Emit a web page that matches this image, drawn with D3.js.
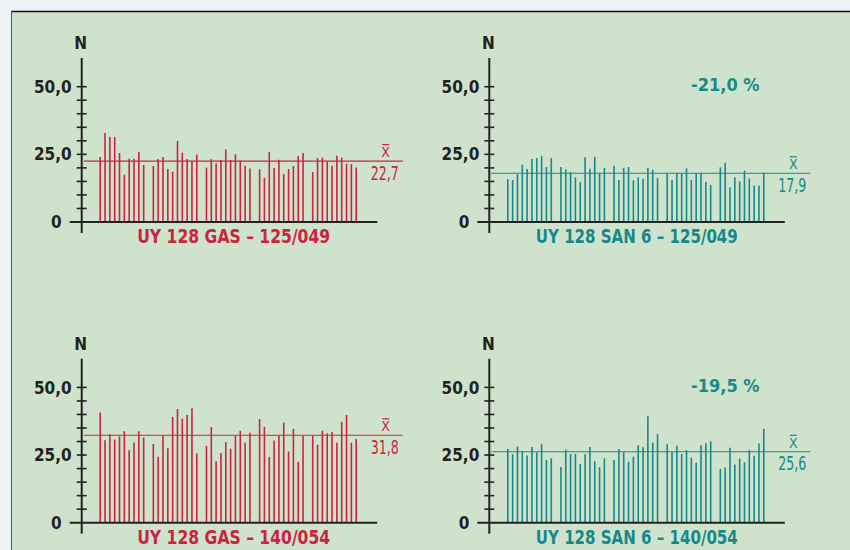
<!DOCTYPE html>
<html>
<head>
<meta charset="utf-8">
<script src="https://cdn.jsdelivr.net/npm/d3@7"></script>
<style>
  body { margin: 0; background: #edf2f9; }
  svg { display: block; }
  text { font-family: "Liberation Sans Narrow", "DejaVu Sans Condensed", sans-serif; font-stretch: condensed; }
</style>
</head>
<body>
<script>
var gas125 = [24.0, 32.9, 31.4, 31.4, 25.5, 17.5, 23.4, 23.4, 25.9, 21.1,
              20.7, 23.3, 24.0, 19.6, 18.6, 29.9, 25.6, 23.3, 22.5, 24.9,
              20.1, 23.2, 21.7, 22.9, 26.8, 22.9, 25.0, 22.7, 20.8, 19.8,
              19.5, 16.3, 25.9, 20.0, 23.0, 17.7, 19.6, 20.7, 24.4, 25.5,
              18.5, 23.6, 23.8, 22.4, 20.8, 24.5, 23.8, 21.6, 21.4, 20.1];

var san125 = [15.8, 15.5, 17.7, 21.2, 19.6, 23.3, 23.6, 24.5, 20.3, 23.6,
              20.3, 19.5, 18.4, 16.5, 14.8, 23.9, 19.7, 24.1, 18.0, 20.0,
              20.8, 15.5, 20.0, 20.3, 15.4, 16.5, 16.0, 20.0, 19.3, 16.3,
              18.0, 15.5, 18.0, 18.0, 19.8, 15.5, 18.0, 18.0, 14.8, 13.7,
              20.2, 21.9, 12.8, 16.5, 15.0, 19.0, 16.1, 13.5, 13.5, 18.2];

var gas140 = [40.7, 30.5, 32.7, 30.7, 31.9, 33.8, 26.8, 29.6, 33.8, 31.5,
              29.1, 24.4, 32.2, 27.5, 39.1, 42.0, 38.5, 39.8, 42.3, 25.6,
              28.4, 35.3, 22.7, 25.8, 29.8, 27.3, 32.1, 34.0, 29.5, 33.2,
              38.3, 35.4, 24.3, 30.4, 32.2, 37.0, 26.3, 34.7, 22.5, 32.0,
              32.2, 28.8, 34.0, 33.0, 33.5, 29.6, 37.3, 39.8, 29.5, 30.9];

var san140 = [27.3, 25.3, 28.1, 26.2, 24.8, 28.0, 26.0, 29.0, 23.2, 23.8,
              20.6, 27.0, 25.4, 25.4, 21.7, 25.3, 28.0, 22.7, 20.5, 23.8,
              23.2, 27.2, 26.0, 22.5, 24.4, 28.6, 27.9, 39.3, 29.6, 32.8,
              29.0, 26.0, 28.4, 25.4, 26.8, 24.1, 22.2, 28.6, 29.4, 30.1,
              19.9, 20.4, 27.7, 21.5, 23.7, 22.3, 26.9, 24.7, 29.3, 34.7];

var titles = ['UY 128 GAS – 125/049', 'UY 128 SAN 6 – 125/049',
              'UY 128 GAS – 140/054', 'UY 128 SAN 6 – 140/054'];
var meanLine = [22.5, 18.0, 32.3, 26.2];
var meanLabels = ['22,7', '17,9', '31,8', '25,6'];
var changes = ['', '-21,0 %', '', '-19,5 %'];
var tickVals = [0, 25, 50];
var tickLabels = ['0', '25,0', '50,0'];

var red = '#c9253f', teal = '#17898a', ink = '#222';

var width = 850, height = 550;

var svg = d3.select('body').append('svg')
  .attr('width', width)
  .attr('height', height);

// green frame
svg.append('rect')
  .attr('x', 11).attr('y', 11)
  .attr('width', width).attr('height', height)
  .attr('fill', '#cfe3cc');
svg.append('line')
  .attr('x1', 11).attr('x2', width).attr('y1', 11.5).attr('y2', 11.5)
  .attr('stroke', '#111').attr('stroke-width', 1.5);
svg.append('line')
  .attr('x1', 11.5).attr('x2', 11.5).attr('y1', 11).attr('y2', height)
  .attr('stroke', '#555').attr('stroke-width', 1);

var panels = [
  {data: gas125, color: red,  x: 81.7,  y: 222,   titleW: 193, titleC: 152},
  {data: san125, color: teal, x: 489.3, y: 222,   titleW: 202, titleC: 147.5},
  {data: gas140, color: red,  x: 81.7,  y: 522.7, titleW: 193, titleC: 152},
  {data: san140, color: teal, x: 489.3, y: 522.7, titleW: 202, titleC: 147.5}
];

var yScale = d3.scaleLinear()
  .domain([0, 50])
  .range([0, -135.3]);

// slot index: 10 bars, one empty slot, 10 bars ...
var xScale = d3.scaleLinear()
  .domain([0, 53])
  .range([18.5, 274.5]);

function slot(i) { return i + Math.floor(i / 10); }

panels.forEach(function(p, k) {
  var g = svg.append('g')
    .attr('transform', 'translate(' + p.x + ',' + p.y + ')');

  // bars
  g.selectAll('.bar')
    .data(p.data)
    .enter()
      .append('line')
      .attr('class', 'bar')
      .attr('x1', function(d, i) { return xScale(slot(i)); })
      .attr('x2', function(d, i) { return xScale(slot(i)); })
      .attr('y1', yScale(0))
      .attr('y2', function(d) { return yScale(d); })
      .attr('stroke', p.color)
      .attr('stroke-width', 1.6);

  // axes
  g.append('line')
    .attr('x1', 0).attr('x2', 0)
    .attr('y1', 11).attr('y2', yScale(60.6))
    .attr('stroke', ink).attr('stroke-width', 2);
  g.append('line')
    .attr('x1', -12).attr('x2', 295.5)
    .attr('y1', 0).attr('y2', 0)
    .attr('stroke', ink).attr('stroke-width', 2);

  g.selectAll('.tick')
    .data(d3.range(5, 51, 5))
    .enter()
      .append('line')
      .attr('class', 'tick')
      .attr('x1', -5).attr('x2', 5)
      .attr('y1', function(d) { return yScale(d); })
      .attr('y2', function(d) { return yScale(d); })
      .attr('stroke', ink).attr('stroke-width', 1.6);

  g.selectAll('.tlabel')
    .data(tickVals)
    .enter()
      .append('text')
      .attr('class', 'tlabel')
      .attr('x', function(d) { return d === 0 ? -20 : -10; })
      .attr('y', function(d) { return yScale(d); })
      .attr('dy', '0.36em')
      .attr('text-anchor', 'end')
      .attr('font-size', 17)
      .attr('font-weight', 'bold')
      .attr('fill', ink)
      .text(function(d, i) { return tickLabels[i]; });

  g.append('text')
    .attr('x', -1).attr('y', -173)
    .attr('text-anchor', 'middle')
    .attr('font-size', 17).attr('font-weight', 'bold')
    .attr('fill', ink)
    .text('N');

  // mean line and label
  var my = yScale(meanLine[k]);
  g.append('line')
    .attr('x1', 2).attr('x2', 321)
    .attr('y1', my).attr('y2', my)
    .attr('stroke', p.color).attr('stroke-width', 1.1);
  g.append('text')
    .attr('x', 304).attr('y', my - 4)
    .attr('text-anchor', 'middle')
    .attr('font-size', 14)
    .attr('fill', p.color)
    .text('X');
  g.append('line')
    .attr('x1', 300.5).attr('x2', 307.5)
    .attr('y1', my - 16.5).attr('y2', my - 16.5)
    .attr('stroke', p.color).attr('stroke-width', 1.2);
  g.append('text')
    .attr('x', 289).attr('y', my + 18.5)
    .attr('font-size', 20)
    .attr('textLength', 28)
    .attr('lengthAdjust', 'spacingAndGlyphs')
    .attr('fill', p.color)
    .text(meanLabels[k]);

  g.append('text')
    .attr('x', p.titleC - p.titleW / 2).attr('y', 21)
    .attr('font-size', 19).attr('font-weight', 'bold')
    .attr('textLength', p.titleW)
    .attr('lengthAdjust', 'spacingAndGlyphs')
    .attr('fill', p.color)
    .text(titles[k]);

  if (changes[k]) {
    g.append('text')
      .attr('x', 236).attr('y', -131)
      .attr('text-anchor', 'middle')
      .attr('font-size', 18).attr('font-weight', 'bold')
      .attr('fill', p.color)
      .text(changes[k]);
  }
});
</script>
</body>
</html>
